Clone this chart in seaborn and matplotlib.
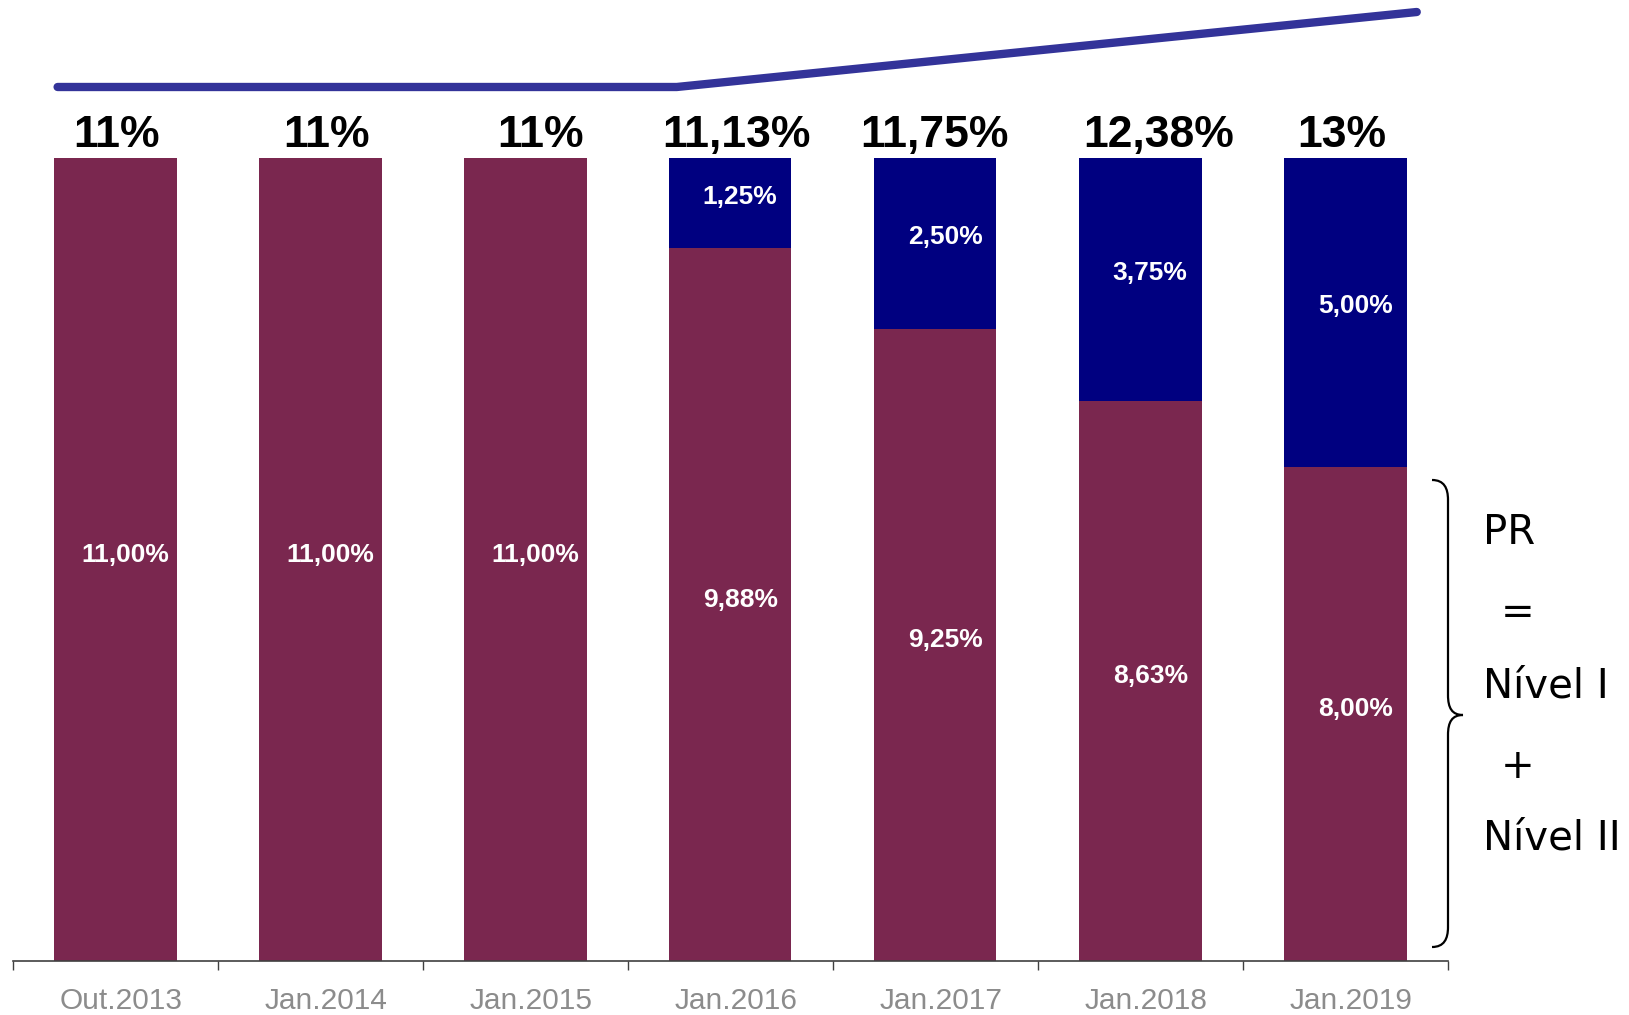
import matplotlib
matplotlib.use("Agg")
import matplotlib.pyplot as plt
import matplotlib.transforms as mtransforms
from matplotlib.path import Path
from matplotlib.patches import PathPatch
import seaborn as sns
import numpy as np
import pandas as pd

# ---- data ----
categories = ["Out.2013", "Jan.2014", "Jan.2015", "Jan.2016", "Jan.2017", "Jan.2018", "Jan.2019"]
nivel1 = [11.00, 11.00, 11.00, 9.88, 9.25, 8.63, 8.00]
nivel2 = [0.00, 0.00, 0.00, 1.25, 2.50, 3.75, 5.00]
total_labels = ["11%", "11%", "11%", "11,13%", "11,75%", "12,38%", "13%"]
trend_x = [-0.28, 2.74, 6.35]
trend_y = [11.0, 11.0, 13.0]
side_text = ["PR", "=", "Nível I", "+", "Nível II"]

# ---- styles ----
MAROON = "#7A274F"
NAVY = "#000080"
LINE = "#333399"
W, H, DPI = 1629, 1015, 100

sns.set_theme(style="white")
plt.rcParams["font.family"] = ["Liberation Sans", "DejaVu Sans"]

totals = np.array(nivel1) + np.array(nivel2)
df = pd.DataFrame({
    "cat": categories,
    "full": 100.0 * totals / totals,
    "n1": 100.0 * np.array(nivel1) / totals,
})

fig = plt.figure(figsize=(W / DPI, H / DPI), dpi=DPI)
ax_bottom_px, ax_top_px = 961, 0
left_px, right_px = 12.5, 1447.5
ax = fig.add_axes([left_px / W, (H - ax_bottom_px) / H,
                   (right_px - left_px) / W, (ax_bottom_px - ax_top_px) / H])

sns.barplot(data=df, x="cat", y="full", color=NAVY, width=0.6, ax=ax,
            saturation=1, edgecolor="none", linewidth=0)
sns.barplot(data=df, x="cat", y="n1", color=MAROON, width=0.6, ax=ax,
            saturation=1, edgecolor="none", linewidth=0)

ax.set_xlim(-0.5, 6.5)
ax.set_ylim(0, 119.68)
ax.set_xlabel("")
ax.set_ylabel("")
ax.set_yticks([])
for s in ["left", "right", "top"]:
    ax.spines[s].set_visible(False)
ax.spines["bottom"].set_color("#404040")
ax.spines["bottom"].set_linewidth(1.2)

ax.set_xticks(range(len(categories)))
ax.set_xticklabels(categories, fontsize=21.5, color="#8C8C8C")
ax.tick_params(axis="x", which="major", length=0, pad=19)
shift = mtransforms.ScaledTranslation(6.5 / DPI, 0, fig.dpi_scale_trans)
for lab in ax.get_xticklabels():
    lab.set_transform(lab.get_transform() + shift)
ax.set_xticks(np.arange(-0.5, 7.0, 1.0), minor=True)
ax.tick_params(axis="x", which="minor", length=6.5, width=1.0, color="#404040",
               direction="out", bottom=True)

# inner labels
fmt = lambda v: f"{v:.2f}".replace(".", ",") + "%"
dx_in = 0.05
for i in range(len(categories)):
    n1p = df["n1"][i]
    ax.text(i + dx_in, n1p / 2 + 0.6, fmt(nivel1[i]), ha="center", va="center",
            color="white", fontsize=19, fontweight="bold")
    if nivel2[i] > 0:
        ax.text(i + dx_in, n1p + (100 - n1p) / 2 + 0.8, fmt(nivel2[i]), ha="center",
                va="center", color="white", fontsize=19, fontweight="bold")

# top labels
top_dx = [2, 7, 15, 6, -1, 19, -3]
for i, lab in enumerate(total_labels):
    ax.text(i + top_dx[i] / 205.0, 102.8, lab, ha="center", va="center",
            color="black", fontsize=32, fontweight="bold")

# trend line on twin axis
ax2 = ax.twinx()
ax2.set_ylim(-12.307, 13.32)
ax2.set_yticks([])
for s in ax2.spines.values():
    s.set_visible(False)
sns.lineplot(x=trend_x, y=trend_y, ax=ax2, color=LINE, linewidth=6)
ax2.set_xlim(-0.5, 6.5)

# brace (pixel coords, y downward) -> figure fraction
def P(x, y):
    return (x / W, (H - y) / H)

verts = [P(1432, 480), P(1444, 480), P(1448, 488), P(1448, 500),
         P(1448, 695),
         P(1448, 708), P(1452, 715), P(1463, 715),
         P(1452, 715), P(1448, 722), P(1448, 735),
         P(1448, 927),
         P(1448, 939), P(1444, 947), P(1432, 947)]
codes = [Path.MOVETO, Path.CURVE4, Path.CURVE4, Path.CURVE4,
         Path.LINETO,
         Path.CURVE4, Path.CURVE4, Path.CURVE4,
         Path.CURVE4, Path.CURVE4, Path.CURVE4,
         Path.LINETO,
         Path.CURVE4, Path.CURVE4, Path.CURVE4]
brace = PathPatch(Path(verts, codes), transform=fig.transFigure, fill=False,
                  edgecolor="black", linewidth=1.6)
fig.patches.append(brace)

side_pos = [(1483, 533, "left"), (1518, 613, "center"), (1483, 686, "left"),
            (1518, 767, "center"), (1483, 839, "left")]
for t, (x, y, ha) in zip(side_text, side_pos):
    fx, fy = P(x, y)
    fig.text(fx, fy, t, ha=ha, va="center", fontsize=29, color="black",
             family=["DejaVu Sans"])

fig.savefig("out.png", dpi=DPI)
